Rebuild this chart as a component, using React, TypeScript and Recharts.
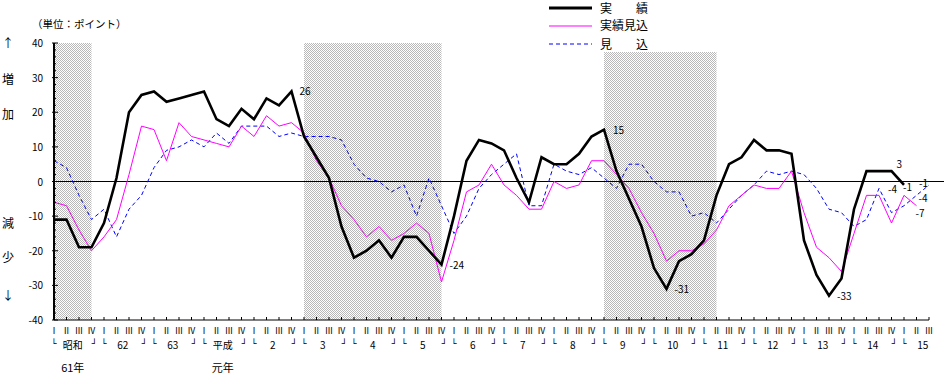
import { LineChart, Line, XAxis, YAxis, ReferenceArea, ReferenceLine } from 'recharts'

// 四半期（昭和61年Ⅰ期 〜 平成15年Ⅲ期）
const QUARTERS = ['Ⅰ', 'Ⅱ', 'Ⅲ', 'Ⅳ']
const YEARS = ['昭和', '62', '63', '平成', '2', '3', '4', '5', '6', '7', '8', '9', '10', '11', '12', '13', '14', '15']
const YEAR_NOTES: Record<number, string> = { 0: '61年', 3: '元年' }
const N = 71

// 実績
const ACTUAL = [
  -11, -11, -19, -19, -12, 1, 20, 25, 26, 23, 24, 25, 26, 18, 16, 21, 18, 24, 22, 26,
  13, 7, 1, -13, -22, -20, -17, -22, -16, -16, -20, -24, -10, 6, 12, 11, 9, 1, -6, 7,
  5, 5, 8, 13, 15, 3, -5, -13, -25, -31, -23, -21, -17, -4, 5, 7, 12, 9, 9, 8,
  -17, -27, -33, -28, -8, 3, 3, 3, -1,
]
// 実績見込
const ACTUAL_EST = [
  -6, -7, -14, -20, -16, -11, 2, 16, 15, 6, 17, 13, 12, 11, 10, 16, 13, 19, 16, 17,
  14, 6, 1, -7, -11, -16, -13, -17, -15, -12, -15, -29, -17, -3, -1, 5, -1, -4, -8, -8,
  0, -2, -1, 6, 6, 2, -2, -9, -15, -23, -20, -20, -18, -14, -7, -4, -1, -2, -2, 3,
  -9, -19, -22, -26, -15, -4, -4, -12, -4, -7,
]
// 見込
const FORECAST = [
  6, 4, -4, -11, -8, -16, -8, -4, 4, 9, 10, 12, 10, 14, 11, 16, 16, 16, 13, 14,
  13, 13, 13, 12, 5, 1, 0, -3, -1, -10, 1, -7, -15, -10, -2, 2, 5, 8, -7, -7,
  5, 3, 2, 4, 1, -2, 5, 5, 0, -3, -3, -10, -9, -12, -8, -4, -1, 3, 2, 3,
  2, -2, -8, -9, -13, -11, -2, -9, -7, -4, -1,
]

// 景気後退期（四半期インデックス）
const RECESSIONS = [[0, 3], [20, 31], [44, 53]]

// 数値ラベルを付ける点
const ACTUAL_LABELS = [19, 31, 44, 49, 62, 67, 68]
const EST_LABELS = [68, 69]
const FORECAST_LABELS = [69, 70]

const data = Array.from({ length: N }, (_, k) => ({
  k,
  actual: ACTUAL[k] ?? null,
  est: ACTUAL_EST[k] ?? null,
  forecast: FORECAST[k] ?? null,
}))

const W = 947
const H = 375
const MARGIN = { top: 43, right: 18, left: 14, bottom: 25 }
const Y_AXIS_W = 40
const X_AXIS_H = 30
const STEP = (W - MARGIN.right - MARGIN.left - Y_AXIS_W) / (N - 1)
const FONT = "'Noto Sans CJK JP', 'Noto Sans', sans-serif"

const LABEL_OFFSETS: Record<string, Record<number, [number, number]>> = {
  actual: { 19: [8, 4], 31: [8, 4], 44: [9, 4], 49: [8, 4], 62: [8, 4], 67: [5, -3], 68: [-1, 6] },
  est: { 68: [-16, -2], 69: [-1, 11] },
  forecast: { 69: [2, 7], 70: [-10, 2] },
}

const makeLabel = (key: string, which: number[]) => (props: any) => {
  const { x, y, index, value } = props
  if (!which.includes(index) || value == null) return <g key={`${key}-${index}`} />
  const [dx, dy] = LABEL_OFFSETS[key][index]
  return (
    <text key={`${key}-${index}`} x={x + dx} y={y + dy} fontSize={10} fontFamily={FONT} fill="#000">
      {value}
    </text>
  )
}

function ValueTick({ x, y, payload }: any) {
  const v = payload.value
  const major = v % 10 === 0
  return (
    <g>
      <line x1={major ? x - 2 : x} x2={x + (major ? 4 : 2)} y1={y} y2={y} stroke="#000" />
      {major && (
        <text x={x - 11} y={y + 4} textAnchor="end" fontSize={10} fontFamily={FONT} fill="#000">
          {v}
        </text>
      )}
    </g>
  )
}

function QuarterTick({ x, y, payload }: any) {
  const k = payload.value
  const q = k % 4
  const yr = Math.floor(k / 4)
  return (
    <g>
      <line x1={x} x2={x} y1={y - 3} y2={y} stroke="#000" />
      <text x={x} y={y + 14} textAnchor="middle" fontSize={8.5} fontFamily={FONT} fill="#000">
        {QUARTERS[q]}
      </text>
      {q === 0 && (
        <text x={x} y={y + 27} textAnchor="middle" fontSize={9} fontFamily="'DejaVu Sans Mono'" fill="#000">
          └
        </text>
      )}
      {q === 3 && (
        <text x={x + 3} y={y + 27} textAnchor="middle" fontSize={9} fontFamily="'DejaVu Sans Mono'" fill="#000">
          ┘
        </text>
      )}
      {q === 1 && (
        <text x={x + STEP / 2} y={y + 29} textAnchor="middle" fontSize={10} fontFamily={FONT} fill="#000">
          {YEARS[yr]}
        </text>
      )}
      {q === 1 && YEAR_NOTES[yr] && (
        <text x={x + STEP / 2} y={y + 52} textAnchor="middle" fontSize={11} fontFamily={FONT} fill="#000">
          {YEAR_NOTES[yr]}
        </text>
      )}
    </g>
  )
}

export default function App() {
  const ticksY = Array.from({ length: 41 }, (_, i) => -40 + i * 2)
  const ticksX = Array.from({ length: N }, (_, i) => i)
  return (
    <div style={{ position: 'absolute', left: 0, top: 0, width: W, height: H, background: '#fff' }}>
      <svg width={0} height={0} style={{ position: 'absolute' }}>
        <defs>
          <pattern id="dither" patternUnits="userSpaceOnUse" width={2} height={2}>
            <rect width={2} height={2} fill="#fff" />
            <rect x={0} y={0} width={1} height={1} fill="#b8b8b8" />
            <rect x={1} y={1} width={1} height={1} fill="#b8b8b8" />
          </pattern>
        </defs>
      </svg>
      <LineChart width={W} height={H} data={data} margin={MARGIN}>
        {RECESSIONS.map(([a, b], i) => (
          <ReferenceArea
            key={i}
            x1={a}
            x2={b}
            y1={-40}
            y2={i === 2 ? 37.4 : 40}
            fill="url(#dither)"
            fillOpacity={1}
            stroke="none"
            ifOverflow="visible"
          />
        ))}
        <XAxis
          dataKey="k"
          type="number"
          domain={[0, N - 1]}
          ticks={ticksX}
          interval={0}
          height={X_AXIS_H}
          tickSize={0}
          tickMargin={0}
          tickLine={false}
          tick={<QuarterTick />}
          axisLine={{ stroke: '#000' }}
        />
        <YAxis
          type="number"
          domain={[-40, 40]}
          ticks={ticksY}
          interval={0}
          width={Y_AXIS_W}
          tickSize={0}
          tickMargin={0}
          tickLine={false}
          tick={<ValueTick />}
          axisLine={{ stroke: '#000', strokeWidth: 2 }}
        />
        <ReferenceLine
          segment={[{ x: 0, y: 0 }, { x: N - 1 + 15 / STEP, y: 0 }]}
          stroke="#000"
          ifOverflow="visible"
        />
        <Line
          dataKey="forecast"
          stroke="#0000ff"
          strokeWidth={1}
          strokeDasharray="4 3"
          dot={false}
          isAnimationActive={false}
          label={makeLabel('forecast', FORECAST_LABELS)}
        />
        <Line
          dataKey="est"
          stroke="#ff00ff"
          strokeWidth={1}
          dot={false}
          isAnimationActive={false}
          label={makeLabel('est', EST_LABELS)}
        />
        <Line
          dataKey="actual"
          stroke="#000"
          strokeWidth={2.6}
          dot={false}
          isAnimationActive={false}
          label={makeLabel('actual', ACTUAL_LABELS)}
        />
      </LineChart>
      <svg width={W} height={H} style={{ position: 'absolute', left: 0, top: 0, pointerEvents: 'none' }}>
        <g fontFamily={FONT} fill="#000">
          <text x={32} y={28} fontSize={10.5}>（単位：ポイント）</text>
          <text x={8} y={48} fontSize={12} textAnchor="middle">↑</text>
          <text x={8} y={84} fontSize={12} textAnchor="middle">増</text>
          <text x={8} y={119} fontSize={12} textAnchor="middle">加</text>
          <text x={8} y={228} fontSize={12} textAnchor="middle">減</text>
          <text x={8} y={262} fontSize={12} textAnchor="middle">少</text>
          <text x={8} y={300} fontSize={12} textAnchor="middle">↓</text>
          <line x1={549} x2={592} y1={8} y2={8} stroke="#000" strokeWidth={3} />
          <line x1={549} x2={592} y1={26} y2={26} stroke="#ff00ff" strokeWidth={1} />
          <line x1={549} x2={592} y1={44} y2={44} stroke="#0000ff" strokeWidth={1} strokeDasharray="4 3" />
          <text x={600} y={13} fontSize={12}>実　　績</text>
          <text x={600} y={30} fontSize={12}>実績見込</text>
          <text x={600} y={49} fontSize={12}>見　　込</text>
        </g>
      </svg>
    </div>
  )
}
